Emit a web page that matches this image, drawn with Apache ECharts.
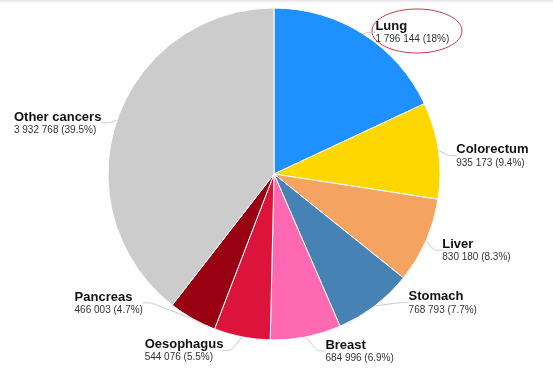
<!DOCTYPE html>
<html>
<head>
<meta charset="utf-8">
<script src="https://cdn.jsdelivr.net/npm/echarts@6/dist/echarts.min.js"></script>
<style>html,body{margin:0;padding:0;background:#fff;}#c{width:553px;height:379px;}</style>
</head>
<body>
<div id="c"></div>
<script>
var categories = ['Lung','Colorectum','Liver','Stomach','Breast','Oesophagus','Pancreas','Other cancers'];
var values = [1796144, 935173, 830180, 768793, 684996, 544076, 466003, 3932768];
var valueLabels = ['1 796 144','935 173','830 180','768 793','684 996','544 076','466 003','3 932 768'];
var percentLabels = ['18%','9.4%','8.3%','7.7%','6.9%','5.5%','4.7%','39.5%'];
var colors = ['#1e90ff','#ffd700','#f4a460','#4682b4','#ff69b4','#dc143c','#990012','#cccccc'];
// label nudges (layout only)
var labelDx = [-5, -3, -4, 16, 5, -4, -26, 5];
var labelDy = [5, 6, 6, -10, 6, -2, -23, 5];

var chart = echarts.init(document.getElementById('c'));
chart.setOption({
  animation:false,
  backgroundColor:'#fff',
  series:[{
    type:'pie',
    center:[274,174],
    radius:[0,166],
    startAngle:90,
    clockwise:true,
    avoidLabelOverlap:true,
    itemStyle:{borderColor:'#fff',borderWidth:1},
    data:categories.map(function(c,i){return {name:c,value:values[i],itemStyle:{color:colors[i]}};}),
    label:{
      show:true,
      overflow:'none',
      bleedMargin:0,
      fontFamily:'Liberation Sans, Arial, sans-serif',
      formatter:function(p){var i=p.dataIndex;return '{n|'+categories[i]+'}\n{v|'+valueLabels[i]+' ('+percentLabels[i]+')}';},
      rich:{
        n:{fontSize:13,fontWeight:'bold',color:'#111',fontFamily:'Liberation Sans, Arial, sans-serif',lineHeight:14,align:'left'},
        v:{fontSize:10,color:'#333',fontFamily:'Liberation Sans, Arial, sans-serif',lineHeight:12,align:'left'}
      }
    },
    labelLayout:function(p){
      var r=p.labelRect, i=p.dataIndex;
      return {x:r.x+labelDx[i], y:r.y+labelDy[i], align:'left', verticalAlign:'top'};
    },
    labelLine:{show:true,length:8,length2:8,smooth:0.2,lineStyle:{color:'#c8c8c8',width:1}}
  }],
  graphic:[{
    type:'rect',
    shape:{x:0,y:0,width:553,height:5},
    style:{fill:new echarts.graphic.LinearGradient(0,0,0,1,[{offset:0,color:'#e4e4e4'},{offset:1,color:'rgba(255,255,255,0)'}])},
    silent:true
  },{
    type:'ellipse',
    shape:{cx:417,cy:31,rx:45,ry:22},
    style:{fill:'none',stroke:'#c8384a',lineWidth:1}
  }]
});
</script>
</body>
</html>
